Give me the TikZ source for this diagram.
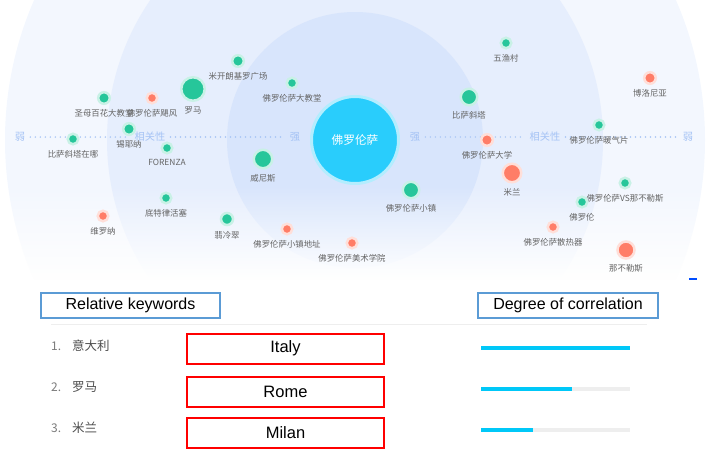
\documentclass[tikz,border=0pt]{standalone}
\usepackage{fontspec}
\setmainfont{Liberation Sans}
\newfontfamily\cjk{Noto Sans CJK SC}
\usepackage{xcolor}
\usepackage{tikz}
\usetikzlibrary{positioning, fadings}

\definecolor{dotgreen}{RGB}{38,198,154}
\definecolor{dotred}{RGB}{255,125,103}
\definecolor{hubcyan}{RGB}{41,205,252}
\definecolor{ringA}{RGB}{216,229,252}
\definecolor{ringB}{RGB}{230,238,253}
\definecolor{ringC}{RGB}{243,247,254}
\definecolor{axisblue}{RGB}{165,195,245}
\definecolor{labelgray}{RGB}{100,100,100}
\definecolor{barcyan}{RGB}{0,200,248}
\definecolor{bargray}{RGB}{238,238,238}
\definecolor{headblue}{RGB}{91,155,213}

\begin{document}
\begin{tikzpicture}[x=1pt, y=-1pt,
    gdot/.style={circle, fill=dotgreen, draw=dotgreen!25, line width=2.5pt, inner sep=0pt, minimum size=#1},
    gdot/.default=10.5pt,
    rdot/.style={circle, fill=dotred, draw=dotred!25, line width=2.5pt, inner sep=0pt, minimum size=#1},
    rdot/.default=10.5pt,
    lbl/.style={font=\cjk\fontsize{8.4}{9}\selectfont, text=labelgray, inner sep=0pt},
    axislbl/.style={font=\cjk\fontsize{10.2}{11}\selectfont, text=axisblue, inner sep=1pt},
    axisdots/.style={axisblue, line width=1.6pt, line cap=round, dash pattern=on 0pt off 5pt, shorten >=4pt, shorten <=4pt},
    headbox/.style={draw=headblue, line width=1.8pt, minimum height=25pt, inner sep=0pt, font=\fontsize{16}{18}\selectfont},
    kwbox/.style={draw=red, line width=2pt, minimum width=197pt, minimum height=30pt, inner sep=0pt, font=\fontsize{16.5}{18}\selectfont},
    rownum/.style={font=\cjk\fontsize{12}{13}\selectfont, text=labelgray!85, anchor=west, inner sep=0pt},
    rowkw/.style={font=\cjk\fontsize{12.5}{13}\selectfont, text=black!70, anchor=west, inner sep=0pt}]
      \useasboundingbox (0,0) rectangle (709,453);

      % Rings
      \begin{scope}
        \clip (0,0) rectangle (709,279);
        \fill[ringC] (355,140) circle[radius=350pt];
        \fill[ringB] (355,140) circle[radius=248pt];
        \fill[ringA] (355,140) circle[radius=128pt];
        \fill[white, path fading=north] (0,185) rectangle (709,280);
      \end{scope}

      % Axis
      \node[axislbl] (weakL) at (20,137) {弱};
      \node[axislbl] (relL) at (150,137) {相关性};
      \node[axislbl] (strongL) at (295,137) {强};
      \node[axislbl] (strongR) at (415,137) {强};
      \node[axislbl] (relR) at (545,137) {相关性};
      \node[axislbl] (weakR) at (688,137) {弱};
      \draw[axisdots] (weakL) -- (relL);
      \draw[axisdots] (relL) -- (strongL);
      \draw[axisdots] (strongR) -- (relR);
      \draw[axisdots] (relR) -- (weakR);

      % Hub
      \node[circle, fill=hubcyan, draw=hubcyan!35, line width=3pt, minimum size=87pt, text=white,
            font=\cjk\fontsize{11.7}{13}\selectfont] (hub) at (355,140) {佛罗伦萨};

      % Keywords
      \node[gdot=11.5pt] (mikai) at (238,61) {};
      \node[lbl, below=4.5pt of mikai] (mikai-t) {米开朗基罗广场};
      \node[gdot] (duomo) at (292,83) {};
      \node[lbl, below=4.5pt of duomo] (duomo-t) {佛罗伦萨大教堂};
      \node[gdot=23.5pt] (roma) at (193,89) {};
      \node[lbl, below=4.5pt of roma] (roma-t) {罗马};
      \node[gdot=11.5pt] (baihua) at (104,98) {};
      \node[lbl, below=4.5pt of baihua] (baihua-t) {圣母百花大教堂};
      \node[rdot] (jufeng) at (152,98) {};
      \node[lbl, below=4.5pt of jufeng] (jufeng-t) {佛罗伦萨飓风};
      \node[gdot=11.5pt] (siena) at (129,129) {};
      \node[lbl, below=4.5pt of siena] (siena-t) {锡耶纳};
      \node[gdot] (pisawhere) at (73,139) {};
      \node[lbl, below=4.5pt of pisawhere] (pisawhere-t) {比萨斜塔在哪};
      \node[gdot] (forenza) at (167,148) {};
      \node[lbl, below=4.5pt of forenza] (forenza-t) {FORENZA};
      \node[gdot=18.5pt] (venezia) at (263,159) {};
      \node[lbl, below=4.5pt of venezia] (venezia-t) {威尼斯};
      \node[gdot] (pistons) at (166,198) {};
      \node[lbl, below=4.5pt of pistons] (pistons-t) {底特律活塞};
      \node[rdot] (verona) at (103,216) {};
      \node[lbl, below=4.5pt of verona] (verona-t) {维罗纳};
      \node[gdot=12pt] (feileng) at (227,219) {};
      \node[lbl, below=4.5pt of feileng] (feileng-t) {翡冷翠};
      \node[rdot] (townaddr) at (287,229) {};
      \node[lbl, below=4.5pt of townaddr] (townaddr-t) {佛罗伦萨小镇地址};
      \node[rdot] (academy) at (352,243) {};
      \node[lbl, below=4.5pt of academy] (academy-t) {佛罗伦萨美术学院};
      \node[gdot] (cinque) at (506,43) {};
      \node[lbl, below=4.5pt of cinque] (cinque-t) {五渔村};
      \node[rdot=11.5pt] (bologna) at (650,78) {};
      \node[lbl, below=4.5pt of bologna] (bologna-t) {博洛尼亚};
      \node[gdot=16.5pt] (pisa) at (469,97) {};
      \node[lbl, below=4.5pt of pisa] (pisa-t) {比萨斜塔};
      \node[gdot] (heater) at (599,125) {};
      \node[lbl, below=4.5pt of heater] (heater-t) {佛罗伦萨暖气片};
      \node[rdot=11.5pt] (univ) at (487,140) {};
      \node[lbl, below=4.5pt of univ] (univ-t) {佛罗伦萨大学};
      \node[rdot=18.5pt] (milano) at (512,173) {};
      \node[lbl, below=4.5pt of milano] (milano-t) {米兰};
      \node[gdot=16.5pt] (town) at (411,190) {};
      \node[lbl, below=4.5pt of town] (town-t) {佛罗伦萨小镇};
      \node[gdot] (vsnapoli) at (625,183) {};
      \node[lbl, below=4.5pt of vsnapoli] (vsnapoli-t) {佛罗伦萨VS那不勒斯};
      \node[gdot] (folun) at (582,202) {};
      \node[lbl, below=4.5pt of folun] (folun-t) {佛罗伦};
      \node[rdot] (radiator) at (553,227) {};
      \node[lbl, below=4.5pt of radiator] (radiator-t) {佛罗伦萨散热器};
      \node[rdot=17pt] (napoli) at (626,250) {};
      \node[lbl, below=4.5pt of napoli] (napoli-t) {那不勒斯};

      % small mark
      \draw[blue!70!cyan, line width=1.5pt] (689,279) -- (697,279);

      % Table
      \node[headbox, minimum width=179pt] (relkw) at (130.5,305.5) {Relative keywords};
      \node[headbox, minimum width=180pt] (degcor) at (568,305.5) {Degree of correlation};
      \draw[bargray, line width=0.8pt] (51,324) -- (647,324);

      \node[rownum] (n1) at (51,346) {1.};
      \node[rowkw] (k1) at (72,346) {意大利};
      \node[rownum] (n2) at (51,387) {2.};
      \node[rowkw] (k2) at (72,387) {罗马};
      \node[rownum] (n3) at (51,428) {3.};
      \node[rowkw] (k3) at (72,428) {米兰};

      \node[kwbox] (italy) at (285.5,348.5) {Italy};
      \node[kwbox] (rome) at (285.5,391.5) {Rome};
      \node[kwbox] (milan) at (285.5,433) {Milan};

      % Bars
      \fill[barcyan] (481,346.3) rectangle (630,350);
      \fill[bargray] (481,387.3) rectangle (630,391);
      \fill[barcyan] (481,387.3) rectangle (572,391);
      \fill[bargray] (481,428.3) rectangle (630,432);
      \fill[barcyan] (481,428.3) rectangle (533,432);
\end{tikzpicture}
\end{document}
